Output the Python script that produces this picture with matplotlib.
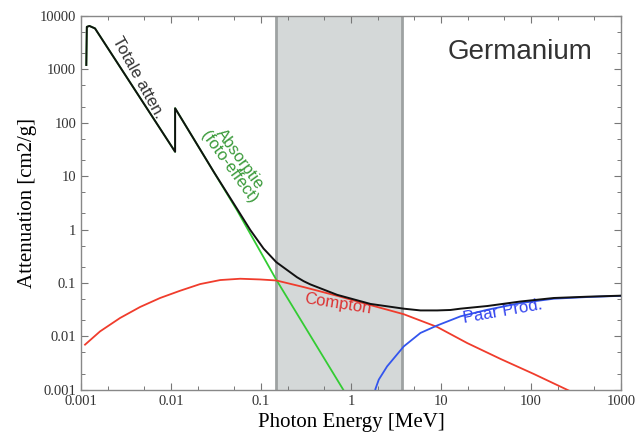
import matplotlib
matplotlib.use("Agg")
import matplotlib.pyplot as plt
from matplotlib.ticker import FixedLocator, LogLocator, NullFormatter

# Germanium attenuation (E in MeV, mu in cm2/g)
total_E = [1.145e-3, 1.16e-3, 1.24e-3, 1.43e-3, 0.0111, 0.0111, 0.03, 0.054, 0.0759, 0.1066,
           0.1476, 0.2507, 0.297, 0.3526, 0.6985, 1.639, 3.846, 5.9, 9.05, 12.7, 16.4, 32.6,
           76.5, 179, 422, 1000]
total_mu = [1200, 6200, 6450, 5800, 28.5, 186, 11.8, 2.45, 0.98, 0.44,
            0.245, 0.128, 0.108, 0.094, 0.060, 0.0405, 0.033, 0.0306, 0.0306, 0.0312, 0.0330, 0.0370,
            0.0450, 0.0523, 0.0553, 0.0578]

photo_E = [1.145e-3, 1.16e-3, 1.24e-3, 1.43e-3, 0.0111, 0.0111, 0.054, 0.1476, 0.82, 1.0]
photo_mu = [1200, 6200, 6450, 5800, 28.5, 186, 2.3, 0.115, 0.001, 0.00058]

compton_E = [1.108e-3, 1.627e-3, 2.716e-3, 4.531e-3, 7.56e-3, 0.01262, 0.02107, 0.03516,
             0.0587, 0.098, 0.1476, 0.297, 0.6985, 1.639, 3.846, 9.05, 19.5, 45.8, 107, 300]
compton_mu = [0.0070, 0.0124, 0.0221, 0.0355, 0.0523, 0.0715, 0.0953, 0.1133,
              0.1199, 0.1162, 0.1113, 0.0838, 0.0575, 0.0385, 0.0260, 0.0150, 0.0075, 0.00378, 0.00198, 0.00087]

pair_E = [1.84, 1.862, 2.03, 2.514, 3.85, 5.90, 9.05, 16.4, 32.6, 76.5, 179, 422, 1000]
pair_mu = [0.00085, 0.00103, 0.00155, 0.00275, 0.0065, 0.0116, 0.0160, 0.0237, 0.0315, 0.0421, 0.0507, 0.0545, 0.0574]

# energy band that is shaded
band = [0.1476, 3.72]

x_ticks = [0.001, 0.01, 0.1, 1, 10, 100, 1000]
x_labels = ["0.001", "0.01", "0.1", "1", "10", "100", "1000"]
y_ticks = [0.001, 0.01, 0.1, 1, 10, 100, 1000, 10000]
y_labels = ["0.001", "0.01", "0.1", "1", "10", "100", "1000", "10000"]

fig = plt.figure(figsize=(6.43, 4.38), dpi=100)
ax = fig.add_axes([0.126, 0.110, 0.840, 0.854])

ax.axvspan(band[0], band[1], facecolor="#d4d8d8", edgecolor="none", zorder=0)
for b in band:
    ax.axvline(b, color="#9ea2a2", lw=2, zorder=1)

ax.plot(photo_E, photo_mu, color="#33cc33", lw=1.3, zorder=2)
ax.plot(compton_E, compton_mu, color="#f03c2c", lw=1.3, zorder=3)
ax.plot(pair_E, pair_mu, color="#3355ee", lw=1.3, zorder=3)
ax.plot(total_E, total_mu, color="#111111", lw=1.4, zorder=4)

ax.set_xscale("log")
ax.set_yscale("log")
ax.set_xlim(0.001, 1000)
ax.set_ylim(0.001, 10000)

serif = "Liberation Serif"
sans = "Liberation Sans"
ax.xaxis.set_major_locator(FixedLocator(x_ticks))
ax.yaxis.set_major_locator(FixedLocator(y_ticks))
ax.set_xticklabels(x_labels, family=serif, fontsize=10.5, color="#333333")
ax.set_yticklabels(y_labels, family=serif, fontsize=10.5, color="#333333")
ax.xaxis.set_minor_locator(LogLocator(base=10, subs=(2, 5), numticks=20))
ax.yaxis.set_minor_locator(LogLocator(base=10, subs=(2, 5), numticks=20))
ax.xaxis.set_minor_formatter(NullFormatter())
ax.yaxis.set_minor_formatter(NullFormatter())
ax.tick_params(which="both", direction="in", top=True, right=True, color="#777777")
ax.tick_params(which="major", length=5, width=0.8)
ax.tick_params(which="minor", length=3, width=0.7)
for s in ax.spines.values():
    s.set_color("#888888")
    s.set_linewidth(1.0)

ax.set_xlabel("Photon Energy [MeV]", family=serif, fontsize=15, labelpad=4)
ax.set_ylabel("Attenuation [cm2/g]", family=serif, fontsize=15, labelpad=2)

ax.text(0.813, 0.904, "Germanium", transform=ax.transAxes, family=sans, fontsize=20,
        color="#333333", ha="center", va="center")
ax.text(0.105, 0.834, "Totale atten.", transform=ax.transAxes, family=sans, fontsize=12,
        color="#333333", ha="center", va="center", rotation=-61, rotation_mode="anchor")
ax.text(0.284, 0.607, "Absorptie\n(foto-effect)", transform=ax.transAxes, family=sans,
        fontsize=12, color="#3a9a3a", ha="center", va="center", rotation=-54,
        rotation_mode="anchor", linespacing=0.85)
ax.text(0.475, 0.231, "Compton", transform=ax.transAxes, family=sans, fontsize=12,
        color="#dd3333", ha="center", va="center", rotation=-9, rotation_mode="anchor")
ax.text(0.781, 0.209, "Paar Prod.", transform=ax.transAxes, family=sans, fontsize=12,
        color="#3344ee", ha="center", va="center", rotation=10, rotation_mode="anchor")

fig.savefig("out.png", dpi=100)
